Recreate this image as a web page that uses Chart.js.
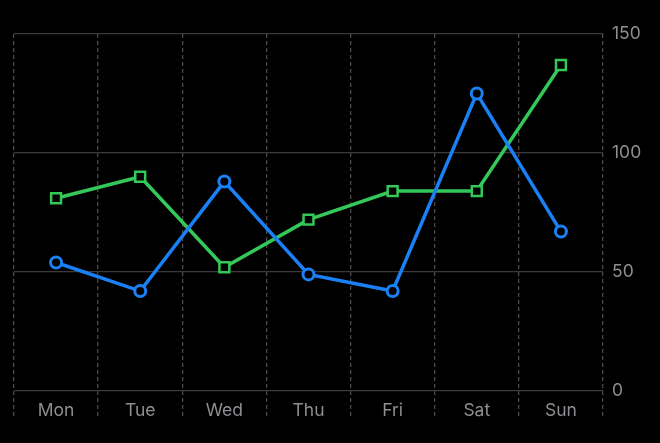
<!DOCTYPE html>
<html>
<head>
<meta charset="utf-8">
<script src="https://cdn.jsdelivr.net/npm/chart.js@4"></script>
<style>
  html, body { margin: 0; padding: 0; background: #000; }
  #chart { display: block; }
</style>
</head>
<body>
<canvas id="chart" width="660" height="443"></canvas>
<script>
const days = ["Mon", "Tue", "Wed", "Thu", "Fri", "Sat", "Sun"];
const blueSeries = [54, 42, 88, 49, 42, 125, 67];
const greenSeries = [81, 90, 52, 72, 84, 84, 137];
const yTicks = [0, 50, 100, 150];

const labelColor = "#8e8e93";
const fontFamily = "Inter, 'Open Sans', sans-serif";

new Chart(document.getElementById("chart"), {
  type: "line",
  data: {
    labels: days,
    datasets: [
      {
        label: "Blue",
        data: blueSeries,
        borderColor: "#1a80f5",
        borderWidth: 3.5,
        pointStyle: "circle",
        pointRadius: 5.5,
        pointBorderWidth: 3,
        pointBackgroundColor: "#000",
        pointBorderColor: "#1a80f5",
        tension: 0,
      },
      {
        label: "Green",
        data: greenSeries,
        borderColor: "#34c759",
        borderWidth: 3.5,
        pointStyle: "rect",
        pointRadius: 7,
        pointBorderWidth: 2.5,
        pointBackgroundColor: "#000",
        pointBorderColor: "#34c759",
        tension: 0,
      },
    ],
  },
  options: {
    responsive: false,
    animation: false,
    layout: { padding: { left: 14, top: 34, right: 0, bottom: 0 } },
    plugins: { legend: { display: false }, tooltip: { enabled: false } },
    scales: {
      x: {
        type: "category",
        offset: true,
        grid: {
          offset: true,
          color: "#4a4a4a",
          lineWidth: 1.3,
          tickLength: 27,
          tickColor: "#4a4a4a",
          tickWidth: 1.3,
          tickBorderDash: [4, 3],
        },
        border: { display: false, dash: [4, 3] },
        ticks: {
          color: labelColor,
          padding: -18,
          font: { family: fontFamily, size: 17.5 },
        },
        afterFit: (axis) => { axis.height = 52; },
      },
      y: {
        position: "right",
        min: 0,
        max: 150,
        afterBuildTicks: (axis) => { axis.ticks = yTicks.map((v) => ({ value: v })); },
        border: { display: false },
        grid: { color: "#3a3a3a", lineWidth: 1.3, drawTicks: false },
        ticks: {
          color: labelColor,
          padding: 9,
          font: { family: fontFamily, size: 17.5 },
        },
        afterFit: (axis) => { axis.width = 57; },
      },
    },
  },
});
</script>
</body>
</html>
